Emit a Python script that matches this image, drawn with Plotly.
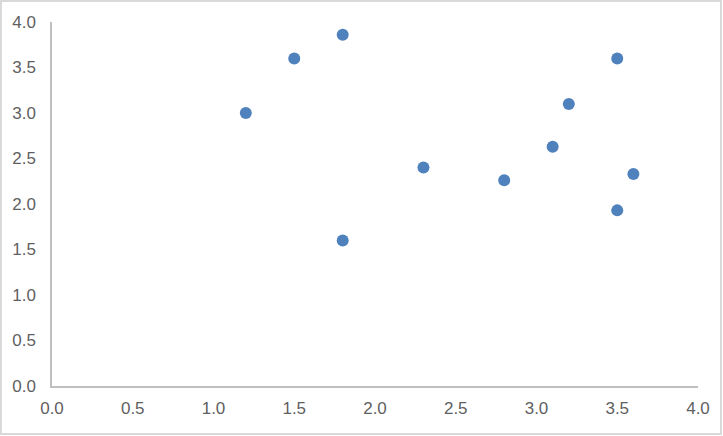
import plotly.graph_objects as go

x_vals = [1.2, 1.5, 1.8, 1.8, 2.3, 2.8, 3.1, 3.2, 3.5, 3.5, 3.6]
y_vals = [3.0, 3.6, 3.86, 1.6, 2.4, 2.26, 2.63, 3.1, 3.6, 1.93, 2.33]
tick_vals = [0, 0.5, 1.0, 1.5, 2.0, 2.5, 3.0, 3.5, 4.0]
tick_text = ["0.0", "0.5", "1.0", "1.5", "2.0", "2.5", "3.0", "3.5", "4.0"]

fig = go.Figure(go.Scatter(
    x=x_vals, y=y_vals, mode="markers",
    marker=dict(size=12, color="#4F81BD", line=dict(width=0)),
))

W, H = 723, 436
ml, mr, mt, mb = 52, 25, 22, 50
pw, ph = W - ml - mr, H - mt - mb

def px(xp):
    return (xp - ml) / pw

def py(yp):
    return (H - mb - yp) / ph

fig.add_shape(type="rect", xref="paper", yref="paper",
              x0=px(1), x1=px(721), y0=py(434), y1=py(1),
              line=dict(color="#d9d9d9", width=2), layer="below")

axis_common = dict(
    range=[0, 4], tickvals=tick_vals, ticktext=tick_text,
    showgrid=False, zeroline=False, showline=True,
    linecolor="#bfbfbf", linewidth=1.5, ticks="",
    tickfont=dict(family="Liberation Sans, Arial, sans-serif", size=17, color="#5f5f5f"),
    fixedrange=True,
)

fig.update_layout(
    width=W, height=H,
    margin=dict(l=ml, r=mr, t=mt, b=mb, autoexpand=False),
    paper_bgcolor="white", plot_bgcolor="white",
    showlegend=False,
    xaxis=dict(**axis_common, ticklabelstandoff=6),
    yaxis=dict(**axis_common, ticklabelstandoff=11),
)

fig.write_html(
    "out.html",
    config={"displayModeBar": False},
    post_script="document.body.style.margin='0';document.body.style.padding='0';",
)
